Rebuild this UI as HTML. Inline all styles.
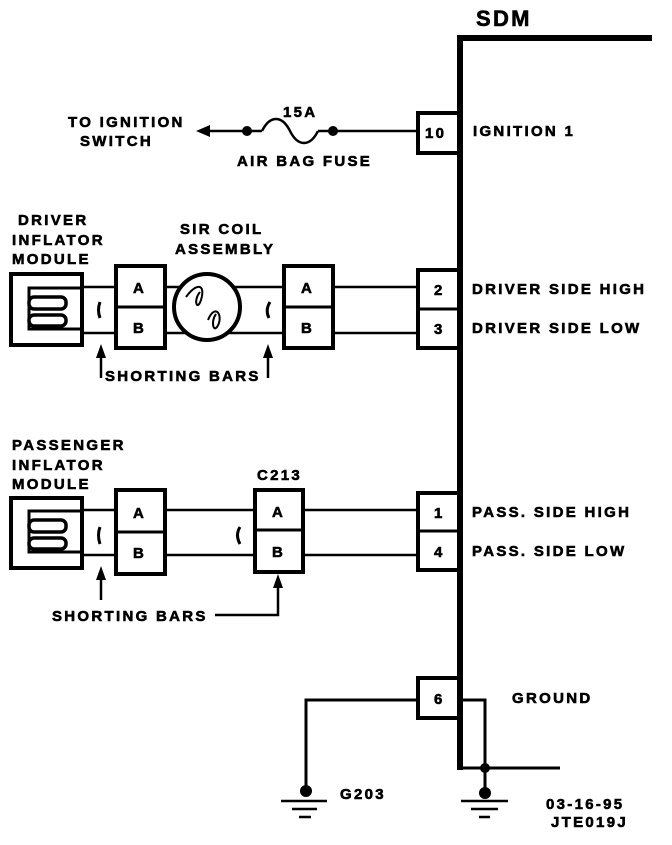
<!DOCTYPE html>
<html><head><style>
body{margin:0;background:#fff}
svg text{font-family:"Liberation Sans",Arial,sans-serif;font-weight:bold;fill:#000;stroke:#000;stroke-width:0.6;letter-spacing:2.3px}
</style></head><body>
<svg width="672" height="840" viewBox="0 0 672 840" xmlns="http://www.w3.org/2000/svg">
<g stroke="#000" fill="none">
<path d="M460 770 V38 H652" stroke-width="6"/>
<line x1="205" y1="131" x2="420" y2="131" stroke-width="2.5"/>
<line x1="262" y1="131" x2="318" y2="131" stroke="#fff" stroke-width="4"/>
<path d="M262 131 C270 115 282 115 290 131 C298 147 310 147 318 131" stroke-width="2.5"/>
<rect x="418" y="113" width="42" height="40" stroke-width="4"/>
<rect x="418" y="270" width="42" height="78" stroke-width="4"/>
<line x1="418" y1="309" x2="460" y2="309" stroke-width="3"/>
<rect x="418" y="493" width="42" height="77" stroke-width="4"/>
<line x1="418" y1="531" x2="460" y2="531" stroke-width="3"/>
<rect x="418" y="678" width="42" height="40" stroke-width="4"/>
<!-- driver -->
<rect x="11" y="274" width="71" height="71" stroke-width="4"/>
<path d="M82 288 H29 V329 H82" stroke-width="3"/>
<rect x="29" y="297" width="37" height="12" rx="5" stroke-width="3.5"/>
<rect x="29" y="315" width="37" height="11" rx="5" stroke-width="3.5"/>
<line x1="82" y1="287" x2="115" y2="287" stroke-width="2.5"/>
<line x1="82" y1="333" x2="115" y2="333" stroke-width="2.5"/>
<rect x="116" y="266" width="49" height="82" stroke-width="4"/>
<line x1="116" y1="307" x2="165" y2="307" stroke-width="3"/>
<line x1="165" y1="287" x2="284" y2="287" stroke-width="2.5"/>
<line x1="165" y1="333" x2="284" y2="333" stroke-width="2.5"/>
<circle cx="207" cy="307" r="33" fill="#fff" stroke-width="4"/>
<path d="M186 297 C196 283 206 283 201 300 C197 312 193 300 200 292 M208 320 C214 305 222 312 219 323 C214 336 210 322 216 314" stroke-width="2"/>
<rect x="284" y="266" width="49" height="82" stroke-width="4"/>
<line x1="284" y1="307" x2="333" y2="307" stroke-width="3"/>
<line x1="333" y1="287" x2="418" y2="287" stroke-width="2.5"/>
<line x1="333" y1="333" x2="418" y2="333" stroke-width="2.5"/>
<path d="M100 302 Q97 310 100 318" stroke-width="3"/>
<path d="M270 302 Q265 310 269 318" stroke-width="3"/>
<line x1="101" y1="378" x2="101" y2="352" stroke-width="2.5"/>
<line x1="268" y1="378" x2="268" y2="352" stroke-width="2.5"/>
<!-- passenger -->
<rect x="11" y="498" width="71" height="70" stroke-width="4"/>
<path d="M82 511 H29 V552 H82" stroke-width="3"/>
<rect x="29" y="520" width="37" height="12" rx="5" stroke-width="3.5"/>
<rect x="29" y="538" width="37" height="11" rx="5" stroke-width="3.5"/>
<line x1="82" y1="510" x2="115" y2="510" stroke-width="2.5"/>
<line x1="82" y1="555" x2="115" y2="555" stroke-width="2.5"/>
<rect x="116" y="490" width="49" height="84" stroke-width="4"/>
<line x1="116" y1="532" x2="165" y2="532" stroke-width="3"/>
<line x1="165" y1="510" x2="255" y2="510" stroke-width="2.5"/>
<line x1="165" y1="555" x2="255" y2="555" stroke-width="2.5"/>
<rect x="255" y="490" width="48" height="82" stroke-width="4"/>
<line x1="255" y1="530" x2="303" y2="530" stroke-width="3"/>
<line x1="303" y1="510" x2="418" y2="510" stroke-width="2.5"/>
<line x1="303" y1="555" x2="418" y2="555" stroke-width="2.5"/>
<path d="M100 527 Q97 535 100 544" stroke-width="3"/>
<path d="M240 527 Q235 535 240 544" stroke-width="3"/>
<line x1="101" y1="600" x2="101" y2="575" stroke-width="2.5"/>
<path d="M215 615 H278 V583" stroke-width="2.5"/>
<path d="M418 700 H306 V792" stroke-width="3"/>
<path d="M460 700 H485 V795" stroke-width="3"/>
<line x1="460" y1="768" x2="560" y2="768" stroke-width="3"/>
<path d="M281 801 H327 M292 809 H317 M299 817 H311" stroke-width="2.5"/>
<path d="M461 801 H508 M471 809 H498 M479 817 H490" stroke-width="2.5"/>
</g>
<g fill="#000">
<circle cx="247" cy="131" r="5"/><circle cx="333" cy="131" r="5"/>
<polygon points="196,131 210,125 210,137"/>
<polygon points="101,344 96,358 106,358"/>
<polygon points="268,344 263,358 273,358"/>
<polygon points="101,566 96,580 106,580"/>
<polygon points="278,574 273,588 283,588"/>
<circle cx="306" cy="791" r="6"/><circle cx="485" cy="768" r="5"/><circle cx="485" cy="793" r="6"/>
</g>
<g font-size="15">
<text x="476" y="26" font-size="22">SDM</text>
<text x="68" y="127">TO IGNITION</text>
<text x="80" y="146">SWITCH</text>
<text x="283" y="117">15A</text>
<text x="237" y="166">AIR BAG FUSE</text>
<text x="473" y="136">IGNITION 1</text>
<text x="472" y="294">DRIVER SIDE HIGH</text>
<text x="472" y="333">DRIVER SIDE LOW</text>
<text x="472" y="517">PASS. SIDE HIGH</text>
<text x="472" y="556">PASS. SIDE LOW</text>
<text x="512" y="703">GROUND</text>
<text x="340" y="799">G203</text>
<text x="546" y="809">03-16-95</text>
<text x="551" y="827">JTE019J</text>
<text x="18" y="225">DRIVER</text>
<text x="12" y="245">INFLATOR</text>
<text x="12" y="264">MODULE</text>
<text x="180" y="234">SIR COIL</text>
<text x="175" y="254">ASSEMBLY</text>
<text x="105" y="381">SHORTING BARS</text>
<text x="12" y="450">PASSENGER</text>
<text x="12" y="470">INFLATOR</text>
<text x="12" y="489">MODULE</text>
<text x="257" y="480">C213</text>
<text x="52" y="621">SHORTING BARS</text>
<text x="133" y="293">A</text><text x="133" y="333">B</text>
<text x="301" y="293">A</text><text x="301" y="333">B</text>
<text x="133" y="518">A</text><text x="133" y="558">B</text>
<text x="272" y="517">A</text><text x="272" y="557">B</text>
<text x="425" y="138">10</text>
<text x="434" y="295">2</text><text x="434" y="334">3</text>
<text x="434" y="518">1</text><text x="434" y="557">4</text>
<text x="434" y="704">6</text>
</g>
</svg>
</body></html>
